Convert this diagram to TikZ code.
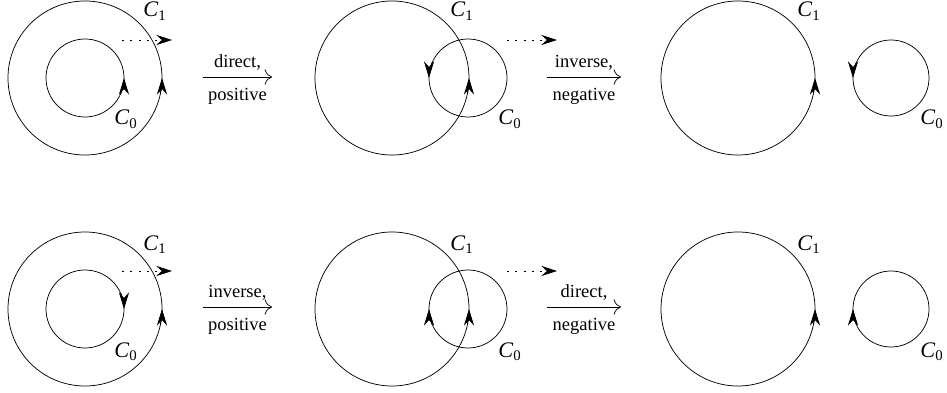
\documentclass[tikz,border=0pt]{standalone}
\usepackage{fontspec}
\setmainfont{Liberation Serif}
\usetikzlibrary{arrows.meta,positioning}

\begin{document}
\begin{tikzpicture}[
    x=0.019cm, y=0.019cm,
    sense/.style={-{Stealth[length=9pt, width=5.5pt, inset=3pt]}},
    drift/.style={dash pattern=on 1pt off 3.5pt, -{Stealth[length=8.5pt, width=5.5pt, inset=3pt]}},
    move/.style={-{To[scale=1.6]}},
    curve/.style={font=\large, inner sep=0pt, anchor=base west}
]
\useasboundingbox (0,0) rectangle (947,392);

% centres of the curves
\coordinate (bigA) at (85,314);   \coordinate (smallA) at (85,314);
\coordinate (bigB) at (392,314);  \coordinate (smallB) at (468,314);
\coordinate (bigC) at (738,314);  \coordinate (smallC) at (891,314);
\coordinate (bigD) at (85,83);    \coordinate (smallD) at (85,83);
\coordinate (bigE) at (392,83);   \coordinate (smallE) at (468,83);
\coordinate (bigF) at (738,83);   \coordinate (smallF) at (891,83);

% circles
\draw (bigA) circle[radius=77]  (smallA) circle[radius=39];
\draw (bigB) circle[radius=77]  (smallB) circle[radius=39];
\draw (bigC) circle[radius=77]  (smallC) circle[radius=38];
\draw (bigD) circle[radius=77]  (smallD) circle[radius=39];
\draw (bigE) circle[radius=77]  (smallE) circle[radius=39];
\draw (bigF) circle[radius=77]  (smallF) circle[radius=38];

% orientation of the curves
\draw[sense] (bigA) ++(-12:77) arc[start angle=-12, end angle=0, radius=77];
\draw[sense] (smallA) ++(-24:39) arc[start angle=-24, end angle=0, radius=39];
\draw[sense] (bigB) ++(-12:77) arc[start angle=-12, end angle=0, radius=77];
\draw[sense] (smallB) ++(156:39) arc[start angle=156, end angle=180, radius=39];
\draw[sense] (bigC) ++(-12:77) arc[start angle=-12, end angle=0, radius=77];
\draw[sense] (smallC) ++(156:38) arc[start angle=156, end angle=180, radius=38];
\draw[sense] (bigD) ++(-12:77) arc[start angle=-12, end angle=0, radius=77];
\draw[sense] (smallD) ++(24:39) arc[start angle=24, end angle=0, radius=39];
\draw[sense] (bigE) ++(-12:77) arc[start angle=-12, end angle=0, radius=77];
\draw[sense] (smallE) ++(204:39) arc[start angle=204, end angle=180, radius=39];
\draw[sense] (bigF) ++(-12:77) arc[start angle=-12, end angle=0, radius=77];
\draw[sense] (smallF) ++(204:38) arc[start angle=204, end angle=180, radius=38];

% labels
\node[curve] (oneA) at (143,375) {\textit{C}\textsubscript{1}};
\node[curve] (zeroA) at (114,267) {\textit{C}\textsubscript{0}};
\node[curve] (oneB) at (450,375) {\textit{C}\textsubscript{1}};
\node[curve] (zeroB) at (498,267) {\textit{C}\textsubscript{0}};
\node[curve] (oneC) at (797,375) {\textit{C}\textsubscript{1}};
\node[curve] (zeroC) at (920,267) {\textit{C}\textsubscript{0}};
\node[curve] (oneD) at (143,142) {\textit{C}\textsubscript{1}};
\node[curve] (zeroD) at (114,35) {\textit{C}\textsubscript{0}};
\node[curve] (oneE) at (450,142) {\textit{C}\textsubscript{1}};
\node[curve] (zeroE) at (498,35) {\textit{C}\textsubscript{0}};
\node[curve] (oneF) at (797,142) {\textit{C}\textsubscript{1}};
\node[curve] (zeroF) at (920,35) {\textit{C}\textsubscript{0}};

% sliding C0 outward
\coordinate (pushA) at (122,352);  \coordinate (pushedA) at (172,352);
\coordinate (pushB) at (507,352);  \coordinate (pushedB) at (557,352);
\coordinate (pushD) at (122,121);  \coordinate (pushedD) at (172,121);
\coordinate (pushE) at (507,121);  \coordinate (pushedE) at (557,121);
\draw[drift] (pushA) -- (pushedA);
\draw[drift] (pushB) -- (pushedB);
\draw[drift] (pushD) -- (pushedD);
\draw[drift] (pushE) -- (pushedE);

% crossings
\coordinate (fromA) at (203,315);  \coordinate (toA) at (272,315);
\coordinate (fromB) at (547,315);  \coordinate (toB) at (621,315);
\coordinate (fromD) at (203,85);   \coordinate (toD) at (272,85);
\coordinate (fromE) at (547,85);   \coordinate (toE) at (621,85);
\path
    (fromA) edge[move] node[above] {direct,} node[below=2.5pt] {positive} (toA)
    (fromB) edge[move] node[above] {inverse,} node[below=2.5pt] {negative} (toB)
    (fromD) edge[move] node[above] {inverse,} node[below=2.5pt] {positive} (toD)
    (fromE) edge[move] node[above] {direct,} node[below=2.5pt] {negative} (toE);

\end{tikzpicture}
\end{document}
